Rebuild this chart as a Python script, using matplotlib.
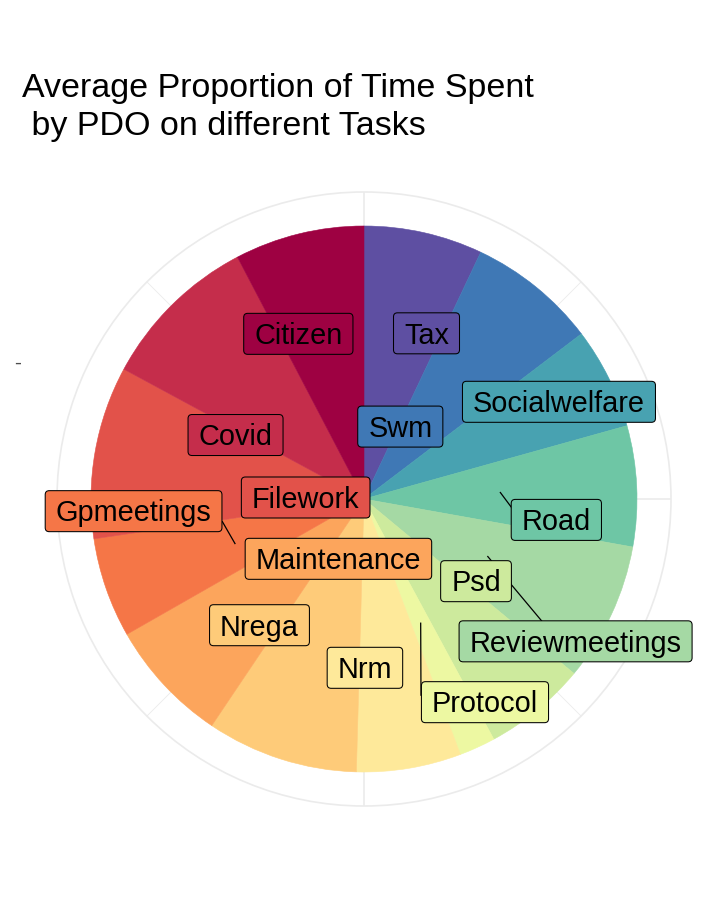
import matplotlib
matplotlib.use("Agg")
import matplotlib.pyplot as plt
from matplotlib.patches import FancyBboxPatch, Circle
import numpy as np

# ---------------- data ----------------
categories = ["Citizen", "Covid", "Filework", "Gpmeetings", "Maintenance", "Nrega",
              "Nrm", "Protocol", "Psd", "Reviewmeetings", "Road", "Socialwelfare",
              "Swm", "Tax"]
proportions = [7.67, 9.44, 10.22, 5.92, 7.33, 8.97, 6.19, 2.14, 6.08, 8.22,
               7.14, 6.01, 7.63, 7.03]
fill_colors = ["#9E0142", "#C52D4B", "#E2524A", "#F57647", "#FCA55C", "#FECB79",
               "#FEE99A", "#EDF8A2", "#CDEA9D", "#A5D9A4", "#6EC6A5", "#48A2B1",
               "#3F78B5", "#5E4FA2"]
title_text = "Average Proportion of Time Spent\n by PDO on different Tasks"
r_axis_label = "-"

# ---------------- layout (image pixels, y downward) ----------------
W, H = 720, 921
CX, CY = 364, 499
R = 273
GRID_R = 307
# label box centre offsets from the anchor point (repel result)
label_offsets = {
    "Tax": (32.6, -32.5), "Swm": (-49.7, 33.6), "Socialwelfare": (72.7, -36.5),
    "Road": (56.0, 27.4), "Reviewmeetings": (87.8, 84.8), "Psd": (25.5, -23.4),
    "Protocol": (64.3, 79.0), "Nrm": (-21.7, 34.2), "Nrega": (-62.9, -3.8),
    "Maintenance": (74.4, -33.1), "Gpmeetings": (-101.4, -32.4),
    "Filework": (76.1, 22.2), "Covid": (-32.6, 33.2), "Citizen": (-33.1, -32.6),
}
# segment end relative to label box centre
segment_ends = {
    "Road": (-43.6, -10.8), "Reviewmeetings": (-34.0, -20.5),
    "Protocol": (-64.0, -7.0), "Gpmeetings": (88.8, 10.5),
}
LABEL_FS = 20.8
BOX_H = 41
BOX_PADX = 10.5
FONT = "Liberation Sans"


def yd(y_img):
    return H - y_img


fig = plt.figure(figsize=(W / 100, H / 100), dpi=100)
ax = fig.add_axes([0, 0, 1, 1])
ax.set_xlim(0, W)
ax.set_ylim(0, H)
ax.set_aspect("equal")
ax.axis("off")

# grid
grid_col = "#EBEBEB"
ax.add_patch(Circle((CX, yd(CY)), GRID_R, fill=False, ec=grid_col, lw=1.2, zorder=0))
for ang in range(0, 360, 45):
    a = np.deg2rad(ang)
    lw = 1.2 if ang % 90 == 0 else 0.6
    ax.plot([CX, CX + GRID_R * np.sin(a)], [yd(CY), yd(CY) + GRID_R * np.cos(a)],
            color=grid_col, lw=lw, zorder=0, solid_capstyle="butt")

# pie (clockwise from top, reversed alphabetical order)
vals_cw = proportions[::-1]
cols_cw = fill_colors[::-1]
cats_cw = categories[::-1]
wedges, _ = ax.pie(vals_cw, colors=cols_cw, startangle=90, counterclock=False,
                   center=(CX, yd(CY)), radius=R, frame=True)
for w in wedges:
    w.set_edgecolor(w.get_facecolor())
    w.set_linewidth(0.4)
    w.set_zorder(1)
ax.set_xlim(0, W)
ax.set_ylim(0, H)
ax.axis("off")

# anchors
total = sum(vals_cw)
cum = np.cumsum([0] + vals_cw) / total * 360.0
mids = (cum[:-1] + cum[1:]) / 2

renderer = fig.canvas.get_renderer()
for cat, col, mid in zip(cats_cw, cols_cw, mids):
    a = np.deg2rad(mid)
    axp = CX + 0.5 * R * np.sin(a)
    ayp = CY - 0.5 * R * np.cos(a)
    ox, oy = label_offsets[cat]
    bx, by = axp + ox, ayp + oy
    if cat in segment_ends:
        ex, ey = segment_ends[cat]
        ax.plot([axp, bx + ex], [yd(ayp), yd(by + ey)], color="black", lw=0.9, zorder=2)
    t = ax.text(bx, yd(by + 10.3), cat, ha="center", va="baseline",
                fontsize=LABEL_FS, family=FONT, color="black", zorder=4)
    ext = t.get_window_extent(renderer)
    bw = ext.width + 2 * BOX_PADX
    ax.add_patch(FancyBboxPatch((bx - bw / 2, yd(by) - BOX_H / 2), bw, BOX_H,
                                boxstyle="round,pad=0,rounding_size=4",
                                fc=col, ec="black", lw=0.75, zorder=3))

# radial axis label
ax.text(21, yd(368.5), r_axis_label, ha="right", va="baseline", fontsize=15,
        family=FONT, color="#4D4D4D")

# title (baseline of the last line)
ax.text(22, yd(135), title_text, ha="left", va="baseline", fontsize=24.5,
        family=FONT, color="black", linespacing=1.31)

fig.savefig("out.png", dpi=100)
